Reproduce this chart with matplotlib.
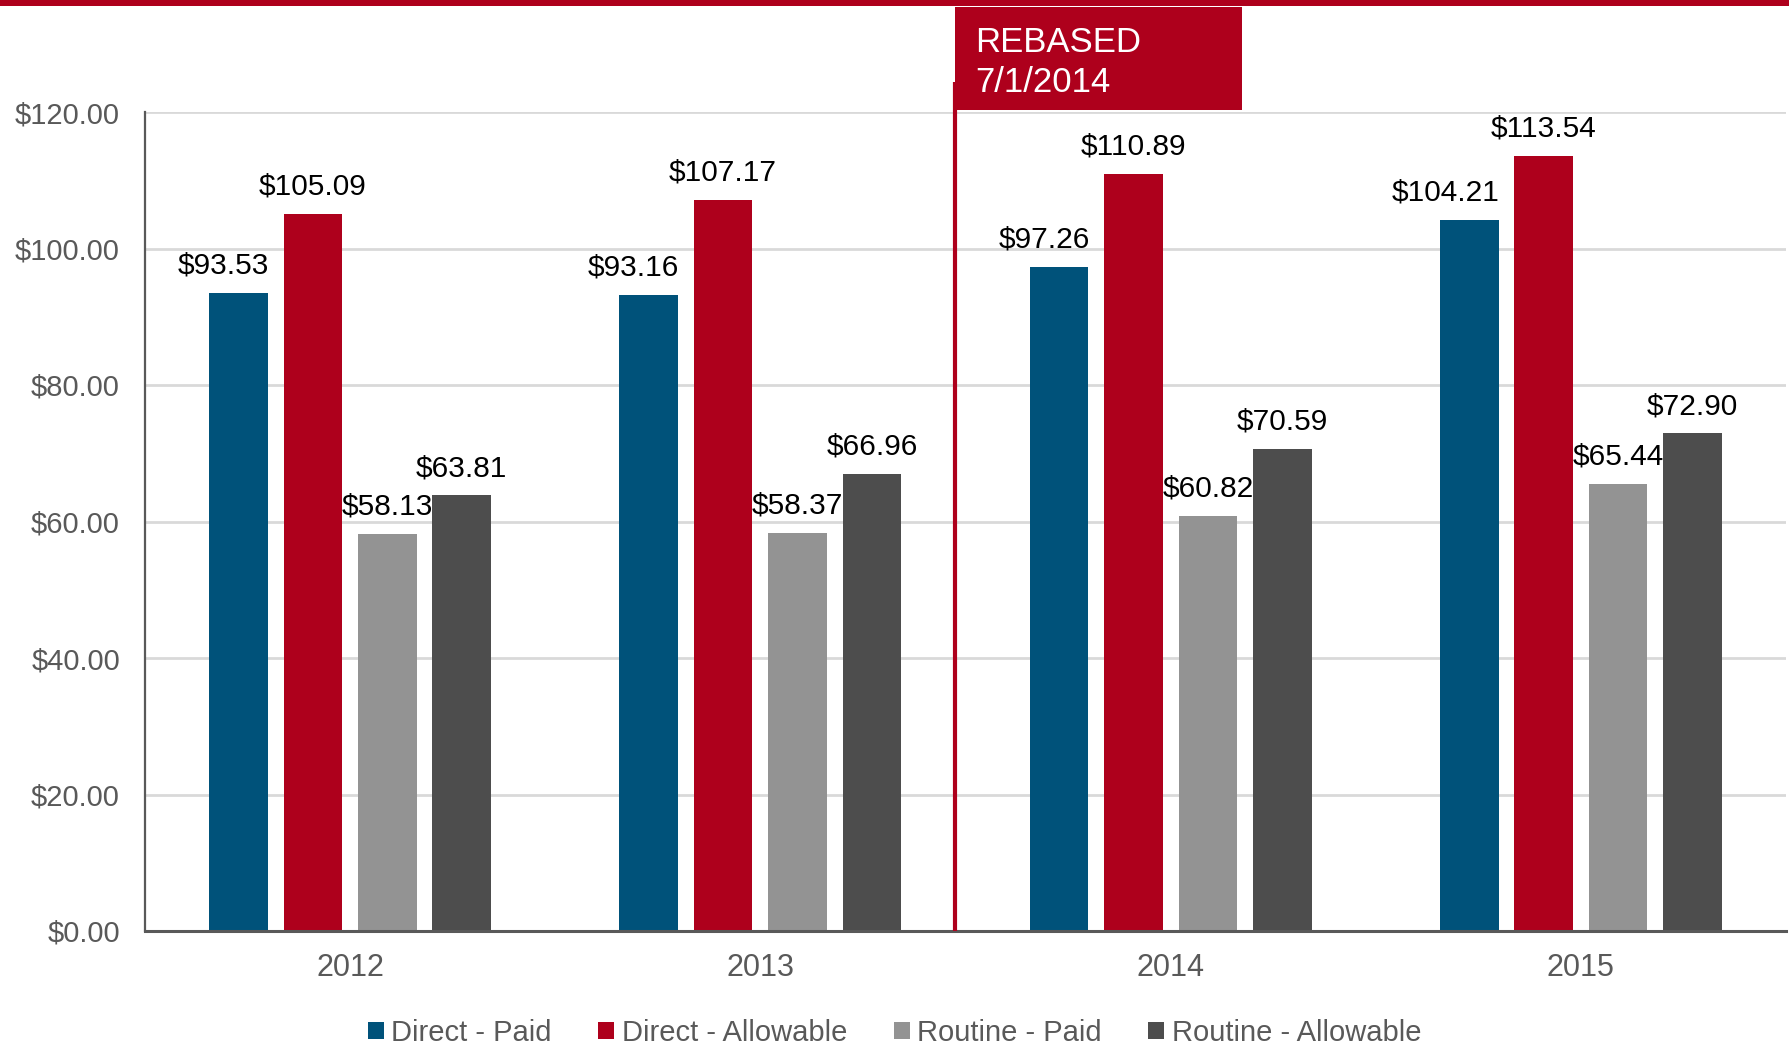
import matplotlib
matplotlib.use("Agg")
import matplotlib.pyplot as plt
from matplotlib.patches import Rectangle, Patch
import matplotlib.transforms as mtransforms
import numpy as np

years = ["2012", "2013", "2014", "2015"]
series_names = ["Direct - Paid", "Direct - Allowable", "Routine - Paid", "Routine - Allowable"]
direct_paid = [93.53, 93.16, 97.26, 104.21]
direct_allowable = [105.09, 107.17, 110.89, 113.54]
routine_paid = [58.13, 58.37, 60.82, 65.44]
routine_allowable = [63.81, 66.96, 70.59, 72.90]
yticks = [0, 20, 40, 60, 80, 100, 120]
rebased_lines = ["REBASED", "7/1/2014"]

colors = ["#00527A", "#AE001C", "#939393", "#4D4D4D"]
all_series = [direct_paid, direct_allowable, routine_paid, routine_allowable]

plt.rcParams['font.family'] = ['Liberation Sans', 'DejaVu Sans']

W, H = 1789, 1048
fig = plt.figure(figsize=(W / 100, H / 100), dpi=100)
ax = fig.add_axes([145 / W, 1 - 931 / H, 1641 / W, 819 / H])

x = np.arange(len(years))
spacing = 0.1815
width = 0.143
for i, (vals, col, name) in enumerate(zip(all_series, colors, series_names)):
    xs = x + (i - 1.5) * spacing
    ax.bar(xs, vals, width=width, color=col, label=name, zorder=3)
    for j, (xi, v) in enumerate(zip(xs, vals)):
        if i == 0:
            # label nudged left so it ends at the bar's right edge
            ax.annotate(f"${v:.2f}", (xi + width / 2, v), xytext=(1, 14),
                        textcoords="offset points", ha="right", va="baseline",
                        fontsize=21.5, color="black", zorder=5)
        else:
            ax.annotate(f"${v:.2f}", (xi, v), xytext=(0, 14), textcoords="offset points",
                        ha="center", va="baseline", fontsize=21.5, color="black", zorder=5)

ax.set_xlim(-0.5, 3.5)
ax.set_ylim(0, 120)
ax.set_yticks(yticks)
ax.set_yticklabels([f"${t:.2f}" for t in yticks])
ax.set_xticks(x)
ax.set_xticklabels(years)
ax.tick_params(axis="both", length=0, labelcolor="#595959")
ax.tick_params(axis="y", pad=18, labelsize=21)
ax.tick_params(axis="x", pad=16, labelsize=22)
ax.grid(axis="y", color="#D9D9D9", linewidth=2, zorder=0)
for s in ["top", "right"]:
    ax.spines[s].set_visible(False)
ax.spines["left"].set_color("#595959")
ax.spines["left"].set_linewidth(1.6)
ax.spines["bottom"].set_color("#595959")
ax.spines["bottom"].set_linewidth(2.2)
ax.spines["bottom"].set_zorder(4)

# Rebased vertical line
trans = mtransforms.blended_transform_factory(ax.transData, ax.transAxes)
ax.plot([1.474, 1.474], [0, 1.037], transform=trans, color="#AE001C", linewidth=3.0,
        clip_on=False, zorder=6, solid_capstyle="butt")

# Rebased box
fig.patches.append(Rectangle((955 / W, 1 - 110 / H), (1242 - 955) / W, 103 / H,
                             transform=fig.transFigure, facecolor="#AE001C", edgecolor="none",
                             zorder=7))
fig.text(975 / W, 1 - 52 / H, rebased_lines[0], color="white", fontsize=25,
         ha="left", va="baseline", zorder=8)
fig.text(975 / W, 1 - 92 / H, rebased_lines[1], color="white", fontsize=25,
         ha="left", va="baseline", zorder=8)

# Top red band
fig.patches.append(Rectangle((0, 1 - 6 / H), 1, 6 / H, transform=fig.transFigure,
                             facecolor="#AE001C", edgecolor="none", zorder=7))

handles = [Patch(facecolor=c, edgecolor="none", label=n) for c, n in zip(colors, series_names)]
leg = fig.legend(handles=handles, loc="center", bbox_to_anchor=(0.5, 1 - 1033 / H), ncol=4,
                 frameon=False, fontsize=21, handlelength=0.55, handleheight=0.55,
                 handletextpad=0.25, columnspacing=1.6, labelcolor="#595959")

fig.savefig("out.png", dpi=100)
